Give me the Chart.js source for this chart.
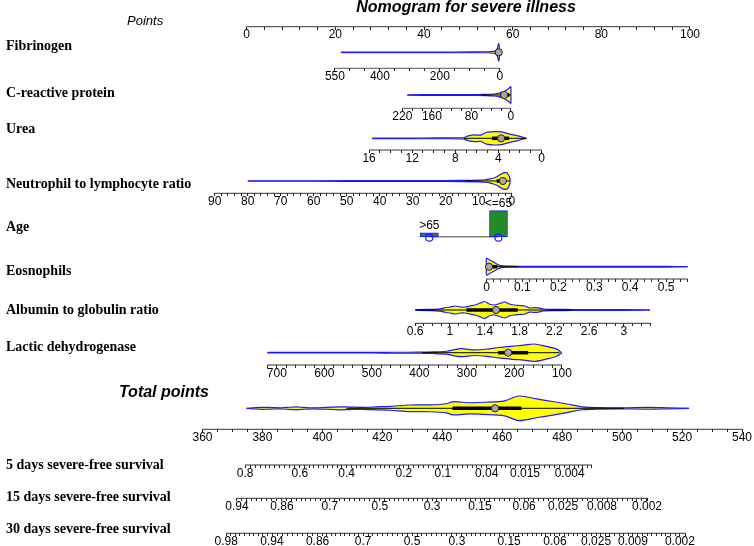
<!DOCTYPE html>
<html lang="en">
<head>
<meta charset="utf-8">
<title>Nomogram for severe illness</title>
<script src="https://cdn.jsdelivr.net/npm/chart.js@4.4.1/dist/chart.umd.min.js"></script>
<style>
    html, body { margin: 0; padding: 0; background: #ffffff; }
    #grafico { display: block; }
</style>
</head>
<body>
<canvas id="grafico" width="754" height="546"></canvas>
<script>
var titulo = 'Nomogram for severe illness';
var nomesLinhas = ['Fibrinogen', 'C-reactive protein', 'Urea', 'Neutrophil to lymphocyte ratio', 'Age',
    'Eosnophils', 'Albumin to globulin ratio', 'Lactic dehydrogenase'];
var nomesSobrevida = ['5 days severe-free survival', '15 days severe-free survival', '30 days severe-free survival'];

var pontosTicks = [0, 20, 40, 60, 80, 100];
var totalTicks = [360, 380, 400, 420, 440, 460, 480, 500, 520, 540];

// Fibrinogen: [valor, pontos]
var fibPontos = [[0, 57.1], [550, 19.9]];
var fibTicks = [550, 400, 200, 0];
var fibX = [530, 400, 300, 200, 100, 50, 20, 10, 7, 5, 3.5, 2, 1, 0];
var fibDens = [0.03, 0.03, 0.03, 0.03, 0.04, 0.05, 0.1, 0.3, 0.6, 0.9, 1, 0.8, 0.4, 0];
var fibBox = [0, 1.5, 3.5, 5.5, 15]; // bigode, q1, mediana, q3, bigode

// C-reactive protein
var crpPontos = [[0, 59.6], [220, 35.1]];
var crpTicks = [220, 160, 80, 0];
var crpX = [210, 150, 100, 70, 50, 35, 25, 18, 13, 8, 4, 1, 0, 0];
var crpDens = [0.03, 0.04, 0.05, 0.06, 0.08, 0.12, 0.2, 0.32, 0.45, 0.62, 0.82, 0.97, 1, 0];
var crpBox = [0, 3, 13.6, 22, 60];

// Urea
var ureaPontos = [[0, 66.5], [16, 27.6]];
var ureaTicks = [16, 12, 8, 4, 0];
var ureaX = [15.7, 12, 10, 8.5, 7.6, 7.2, 6.8, 6.2, 5.6, 5.3, 5.0, 4.4, 3.7, 3.0, 2.2, 1.4];
var ureaDens = [0.04, 0.04, 0.05, 0.06, 0.08, 0.12, 0.35, 0.5, 0.48, 0.75, 0.92, 1, 0.95, 0.65, 0.35, 0];
var ureaBox = [1.4, 3.0, 3.75, 4.6, 7.2];

// Neutrophil to lymphocyte ratio
var nlrPontos = [[0, 59.8], [90, -7.2]];
var nlrTicks = [90, 80, 70, 60, 50, 40, 30, 20, 10, 0];
var nlrX = [80, 60, 40, 25, 15, 10, 8, 6.5, 5.5, 4.5, 3.5, 2.5, 1.5, 1, 0.6, 0.5];
var nlrDens = [0.03, 0.03, 0.04, 0.05, 0.07, 0.1, 0.15, 0.25, 0.35, 0.5, 0.75, 0.95, 0.95, 0.7, 0.35, 0];
var nlrBox = [0.6, 1.8, 2.7, 4.6, 14];

// Age
var idadeCategorias = ['>65', '<=65'];
var idadePontos = [41.2, 56.8];
var idadeProporcao = [0.13, 0.87];

// Eosnophils
var eosPontos = [[0, 54.1], [0.5, 94.6]];
var eosTicks = [0, 0.1, 0.2, 0.3, 0.4, 0.5];
var eosX = [0, 0, 0.01, 0.02, 0.03, 0.04, 0.06, 0.1, 0.2, 0.3, 0.4, 0.5, 0.56];
var eosDens = [0, 1, 0.78, 0.55, 0.3, 0.12, 0.06, 0.05, 0.04, 0.04, 0.04, 0.04, 0];
var eosBox = [0, 0, 0.007, 0.03, 0.09];

// Albumin to globulin ratio
var agPontos = [[0.6, 38.0], [3, 85.1]];
var agTicks = [0.6, 1, 1.4, 1.8, 2.2, 2.6, 3];
var agX = [0.6, 0.75, 0.89, 0.95, 1.0, 1.06, 1.12, 1.17, 1.23, 1.29, 1.35, 1.40, 1.45, 1.51, 1.57,
    1.63, 1.68, 1.74, 1.8, 1.86, 1.92, 1.97, 2.02, 2.07, 2.2, 2.4, 2.7, 3.0, 3.3];
var agDens = [0.04, 0.07, 0.14, 0.29, 0.35, 0.47, 0.35, 0.35, 0.47, 0.59, 0.82, 1, 0.71, 0.59, 0.76,
    0.94, 0.71, 0.59, 0.53, 0.47, 0.24, 0.29, 0.24, 0.12, 0.08, 0.06, 0.05, 0.04, 0];
var agBox = [0.62, 1.19, 1.53, 1.78, 2.4];

// Lactic dehydrogenase
var ldhPontos = [[700, 6.8], [100, 71.1]];
var ldhTicks = [700, 600, 500, 400, 300, 200, 100];
var ldhX = [720, 600, 500, 450, 400, 370, 343, 314, 284, 254, 233, 202, 180, 158, 135, 112, 100];
var ldhDens = [0.03, 0.03, 0.03, 0.05, 0.06, 0.09, 0.17, 0.46, 0.32, 0.44, 0.6, 0.76, 0.86, 1, 0.76, 0.44, 0];
var ldhBox = [105, 171, 213, 234, 394];

// Total points
var totX = [374.7, 377, 380, 383, 385.8, 388, 391.4, 394, 396.9, 401, 405.8, 409, 413.5, 418, 422.5, 429.2,
    435.8, 441.4, 443.5, 446.9, 449, 453.7, 460.8, 465.5, 471.4, 477.3, 482, 486.7, 492.5, 500, 509, 515, 522.3];
var totDens = [0, 0.04, 0.08, 0.06, 0.04, 0.07, 0.11, 0.07, 0.04, 0.07, 0.12, 0.1, 0.08, 0.12, 0.16, 0.27,
    0.28, 0.37, 0.53, 0.49, 0.45, 0.49, 0.61, 1, 0.77, 0.53, 0.33, 0.12, 0.06, 0.04, 0.07, 0.04, 0];
var totBox = [408, 443.4, 457.6, 466.4, 500.7];

// sobrevida: rotulo e total de pontos onde fica
var sobrev5Rotulos = ['0.8', '0.6', '0.4', '0.2', '0.1', '0.04', '0.015', '0.004'];
var sobrev5Total = [374.2, 392.5, 408.1, 427.2, 440.2, 454.8, 467.6, 482.5];
var sobrev5Fim = 489.9;
var sobrev15Rotulos = ['0.94', '0.86', '0.7', '0.5', '0.3', '0.15', '0.06', '0.025', '0.008', '0.002'];
var sobrev15Total = [371.5, 386.5, 402.5, 419.2, 436.6, 452.6, 467.3, 480.3, 493.3, 508.3];
var sobrev15Fim = 508.6;
var sobrev30Rotulos = ['0.98', '0.94', '0.86', '0.7', '0.5', '0.3', '0.15', '0.06', '0.025', '0.009', '0.002'];
var sobrev30Total = [367.9, 383.2, 398.4, 413.6, 429.9, 444.9, 462.3, 477.6, 491.3, 503.6, 519.3];
var sobrev30Fim = 521.3;

// ---------- layout ----------
var LARGURA = 754, ALTURA = 546;
var PX_PONTOS = [246.7, 690];   // onde ficam 0 e 100 pontos
var PX_TOTAL = [202.5, 742];    // onde ficam 360 e 540 pontos totais
var Y = {
    pontos: 26.7, fib: [52.3, 68.3], crp: [95, 108.3], urea: [138.3, 150], nlr: [181, 193.3],
    idade: 236.7, eos: [266.7, 279], ag: [310, 323.3], ldh: [352.7, 365], total: [408.3, 429.3],
    s5: 465, s15: 498.3, s30: 533.3
};
var yNomes = [46, 93.3, 129.3, 184, 227, 271, 310, 347];
var ySobrevida = [465, 497, 529];
var meiaAltura = { fib: 8.7, crp: 8.3, urea: 6.7, nlr: 8.5, eos: 8.3, ag: 8.5, ldh: 8.7, total: 12.3 };
var ALT_IDADE = 30;
var AZUL = '#1a1aff', AMARELO = '#ffff00';
var FONTE = '"Liberation Sans", Arial, sans-serif';

Chart.defaults.font.family = FONTE;

function pxPontos(p) {
    return PX_PONTOS[0] + p / 100 * (PX_PONTOS[1] - PX_PONTOS[0]);
}
function pxTotal(t) {
    return PX_TOTAL[0] + (t - 360) / 180 * (PX_TOTAL[1] - PX_TOTAL[0]);
}

// min/max de uma escala que ocupa a largura toda, a partir de dois valores conhecidos
function limitesEscala(v1, px1, v2, px2) {
    var passo = (px2 - px1) / (v2 - v1);
    var esquerda = v1 - px1 / passo;
    var direita = v1 + (LARGURA - px1) / passo;
    if (passo > 0) {
        return { min: esquerda, max: direita, reverse: false };
    }
    return { min: direita, max: esquerda, reverse: true };
}
function limitesVariavel(ancoras) {
    return limitesEscala(ancoras[0][0], pxPontos(ancoras[0][1]), ancoras[1][0], pxPontos(ancoras[1][1]));
}

function ticksEixo(inicio, fim, passo, maiores) {
    var lista = [];
    var menor = Math.min(inicio, fim);
    var n = Math.round(Math.abs(fim - inicio) / passo);
    for (var k = 0; k <= n; k++) {
        var v = +(menor + k * passo).toFixed(6);
        var ehMaior = maiores.some(function (m) { return Math.abs(m - v) < passo / 10; });
        lista.push({ value: v, rotulo: ehMaior ? String(v) : '' });
    }
    return lista;
}

function ticksSobrevida(totais, rotulos, fim) {
    var lista = [];
    var limites = totais.concat([fim]);
    for (var i = 0; i < totais.length; i++) {
        lista.push({ value: totais[i], rotulo: rotulos[i] });
        var a = limites[i], b = limites[i + 1];
        var n = Math.max(1, Math.round((b - a) / 1.6));
        for (var k = 1; k < n; k++) {
            lista.push({ value: a + (b - a) * k / n, rotulo: '' });
        }
    }
    lista.push({ value: fim, rotulo: '' });
    return lista;
}

function montaEscala(lim, yLinha, listaTicks) {
    return {
        type: 'linear', axis: 'x', position: { y: yLinha },
        min: lim.min, max: lim.max, reverse: lim.reverse, bounds: 'data', offset: false,
        border: { display: false },
        grid: { display: true, drawOnChartArea: false, drawTicks: true, tickLength: 3, tickColor: '#222', tickWidth: 1, offset: false },
        ticks: {
            autoSkip: false, maxRotation: 0, minRotation: 0, padding: -2, color: '#000',
            font: { size: 12, family: FONTE },
            callback: function (valor, i, lista) { return lista[i].rotulo; }
        },
        afterBuildTicks: function (escala) {
            escala.ticks = listaTicks.map(function (t) { return { value: t.value, rotulo: t.rotulo }; });
        },
        afterFit: function (escala) {
            escala.paddingLeft = 0;
            escala.paddingRight = 0;
        }
    };
}

// ---------- datasets ----------
function metadeViolino(idEscala, xs, dens, centro, meia, sinal) {
    return {
        type: 'line', xAxisID: idEscala, yAxisID: 'y',
        data: xs.map(function (x, i) { return { x: x, y: centro + sinal * dens[i] * meia }; }),
        borderColor: AZUL, borderWidth: 1.2, backgroundColor: AMARELO,
        fill: { value: centro }, pointRadius: 0, pointHitRadius: 0, tension: 0.3, order: 8
    };
}
function segmento(idEscala, a, b, y, cor, espessura, ordem) {
    return {
        type: 'line', xAxisID: idEscala, yAxisID: 'y',
        data: [{ x: a, y: y }, { x: b, y: y }],
        borderColor: cor, borderWidth: espessura, pointRadius: 0, pointHitRadius: 0, fill: false, order: ordem
    };
}
function violinoCompleto(idEscala, xs, dens, box, centro, meia) {
    return [
        metadeViolino(idEscala, xs, dens, centro, meia, -1),
        metadeViolino(idEscala, xs, dens, centro, meia, 1),
        segmento(idEscala, box[0], box[4], centro, '#000', 1, 6),
        segmento(idEscala, box[1], box[3], centro, '#000', 3.5, 5),
        {
            type: 'line', xAxisID: idEscala, yAxisID: 'y', showLine: false,
            data: [{ x: box[2], y: centro }],
            pointRadius: 3.6, pointBackgroundColor: '#a8a8a8', pointBorderColor: '#222', pointBorderWidth: 1, order: 2
        }
    ];
}

var escalas = {
    y: { type: 'linear', display: false, min: 0, max: ALTURA, reverse: true },
    x: montaEscala(limitesEscala(0, pxPontos(0), 100, pxPontos(100)), Y.pontos, ticksEixo(0, 100, 4, pontosTicks)),
    fib: montaEscala(limitesVariavel(fibPontos), Y.fib[1], ticksEixo(0, 550, 50, fibTicks)),
    crp: montaEscala(limitesVariavel(crpPontos), Y.crp[1], ticksEixo(0, 220, 20, crpTicks)),
    urea: montaEscala(limitesVariavel(ureaPontos), Y.urea[1], ticksEixo(0, 16, 1, ureaTicks)),
    nlr: montaEscala(limitesVariavel(nlrPontos), Y.nlr[1], ticksEixo(0, 90, 2, nlrTicks)),
    eos: montaEscala(limitesVariavel(eosPontos), Y.eos[1], ticksEixo(0, 0.56, 0.02, eosTicks)),
    ag: montaEscala(limitesVariavel(agPontos), Y.ag[1], ticksEixo(0.6, 3.3, 0.1, agTicks)),
    ldh: montaEscala(limitesVariavel(ldhPontos), Y.ldh[1], ticksEixo(100, 720, 20, ldhTicks)),
    total: montaEscala(limitesEscala(360, pxTotal(360), 540, pxTotal(540)), Y.total[1], ticksEixo(360, 540, 5, totalTicks)),
    s5: montaEscala(limitesEscala(360, pxTotal(360), 540, pxTotal(540)), Y.s5, ticksSobrevida(sobrev5Total, sobrev5Rotulos, sobrev5Fim)),
    s15: montaEscala(limitesEscala(360, pxTotal(360), 540, pxTotal(540)), Y.s15, ticksSobrevida(sobrev15Total, sobrev15Rotulos, sobrev15Fim)),
    s30: montaEscala(limitesEscala(360, pxTotal(360), 540, pxTotal(540)), Y.s30, ticksSobrevida(sobrev30Total, sobrev30Rotulos, sobrev30Fim))
};

var conjuntos = [];
// linhas dos eixos
conjuntos.push(segmento('x', 0, 100, Y.pontos, '#333', 1, 10));
conjuntos.push(segmento('fib', 550, 0, Y.fib[1], '#555', 1, 10));
conjuntos.push(segmento('crp', 220, 0, Y.crp[1], '#555', 1, 10));
conjuntos.push(segmento('urea', 16, 0, Y.urea[1], '#333', 1, 10));
conjuntos.push(segmento('nlr', 90, 0, Y.nlr[1], '#333', 1, 10));
conjuntos.push(segmento('eos', 0, 0.56, Y.eos[1], '#333', 1, 10));
conjuntos.push(segmento('ag', 0.6, 3.3, Y.ag[1], '#333', 1, 10));
conjuntos.push(segmento('ldh', 720, 100, Y.ldh[1], '#333', 1, 10));
conjuntos.push(segmento('total', 360, 540, Y.total[1], '#333', 1, 10));
conjuntos.push(segmento('s5', sobrev5Total[0], sobrev5Fim, Y.s5, '#333', 1, 10));
conjuntos.push(segmento('s15', sobrev15Total[0], sobrev15Fim, Y.s15, '#333', 1, 10));
conjuntos.push(segmento('s30', sobrev30Total[0], sobrev30Fim, Y.s30, '#333', 1, 10));

// violinos
conjuntos = conjuntos.concat(violinoCompleto('fib', fibX, fibDens, fibBox, Y.fib[0], meiaAltura.fib));
conjuntos = conjuntos.concat(violinoCompleto('crp', crpX, crpDens, crpBox, Y.crp[0], meiaAltura.crp));
conjuntos = conjuntos.concat(violinoCompleto('urea', ureaX, ureaDens, ureaBox, Y.urea[0], meiaAltura.urea));
conjuntos = conjuntos.concat(violinoCompleto('nlr', nlrX, nlrDens, nlrBox, Y.nlr[0], meiaAltura.nlr));
conjuntos = conjuntos.concat(violinoCompleto('eos', eosX, eosDens, eosBox, Y.eos[0], meiaAltura.eos));
conjuntos = conjuntos.concat(violinoCompleto('ag', agX, agDens, agBox, Y.ag[0], meiaAltura.ag));
conjuntos = conjuntos.concat(violinoCompleto('ldh', ldhX, ldhDens, ldhBox, Y.ldh[0], meiaAltura.ldh));
conjuntos = conjuntos.concat(violinoCompleto('total', totX, totDens, totBox, Y.total[0], meiaAltura.total));

// idade: linha cinza, barras e circulos
conjuntos.push(segmento('x', idadePontos[0], idadePontos[1], Y.idade, '#808080', 1.5, 9));
var indiceBarras = conjuntos.length;
conjuntos.push({
    type: 'bar', xAxisID: 'x', yAxisID: 'y', grouped: false,
    data: idadePontos.map(function (p, i) {
        return { x: p, y: [Y.idade, Y.idade - idadeProporcao[i] * ALT_IDADE] };
    }),
    backgroundColor: '#238b23', borderColor: AZUL, borderWidth: 1, borderSkipped: false,
    barThickness: 18, order: 7
});
conjuntos.push({
    type: 'line', xAxisID: 'x', yAxisID: 'y', showLine: false,
    data: idadePontos.map(function (p) { return { x: p, y: Y.idade + 1 }; }),
    pointRadius: 3.5, pointBackgroundColor: 'rgba(0,0,0,0)', pointBorderColor: AZUL, pointBorderWidth: 1.2, order: 3
});

// ---------- textos ----------
var textosPlugin = {
    id: 'textos',
    afterDraw: function (grafico) {
        var ctx = grafico.ctx;
        var escY = grafico.scales.y;
        ctx.save();
        ctx.fillStyle = '#000';
        ctx.textBaseline = 'middle';

        ctx.textAlign = 'center';
        ctx.font = 'italic bold 16px ' + FONTE;
        ctx.fillText(titulo, 466, escY.getPixelForValue(8));

        ctx.textAlign = 'left';
        ctx.font = 'italic 13px ' + FONTE;
        ctx.fillText('Points', 127, escY.getPixelForValue(21));

        ctx.font = 'bold 14px "Liberation Serif", "Times New Roman", serif';
        for (var i = 0; i < nomesLinhas.length; i++) {
            ctx.fillText(nomesLinhas[i], 6, escY.getPixelForValue(yNomes[i]));
        }
        for (var j = 0; j < nomesSobrevida.length; j++) {
            ctx.fillText(nomesSobrevida[j], 6, escY.getPixelForValue(ySobrevida[j]));
        }

        ctx.textAlign = 'right';
        ctx.font = 'italic bold 16px ' + FONTE;
        ctx.fillText('Total points', 209, escY.getPixelForValue(393));

        // rotulos das categorias de idade, em cima de cada barra
        var barras = grafico.getDatasetMeta(indiceBarras).data;
        ctx.textAlign = 'center';
        ctx.textBaseline = 'bottom';
        ctx.font = '12px ' + FONTE;
        barras.forEach(function (barra, k) {
            var topo = Math.min(barra.y, barra.base);
            ctx.fillText(idadeCategorias[k], barra.x, topo - 1);
        });
        ctx.restore();
    }
};

var grafico = new Chart(document.getElementById('grafico'), {
    type: 'line',
    data: { datasets: conjuntos },
    options: {
        responsive: false,
        animation: false,
        events: [],
        layout: { padding: 0, autoPadding: false },
        scales: escalas,
        plugins: {
            legend: { display: false },
            tooltip: { enabled: false },
            title: { display: false }
        }
    },
    plugins: [textosPlugin]
});
</script>
</body>
</html>
